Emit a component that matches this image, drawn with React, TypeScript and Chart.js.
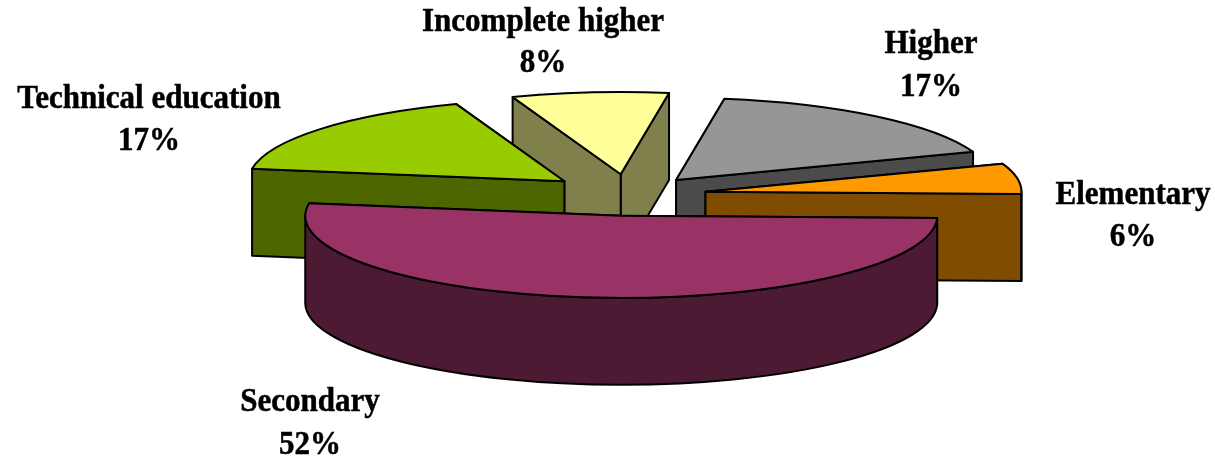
import React, { useEffect, useRef } from "react";
import { Chart, registerables } from "chart.js";

Chart.register(...registerables);

const categories = ["Incomplete higher", "Higher", "Elementary", "Secondary", "Technical education"];
const shares = [8, 17, 6, 52, 17];
const explode = [80, 75, 78, 80, 83];
const topColors = ["#FFFF99", "#969696", "#FF9900", "#993366", "#99CC00"];
const sideColors = ["#80804D", "#4B4B4B", "#804D00", "#4D1A33", "#4D6600"];
const drawOrder = [0, 1, 4, 2, 3];
const labelCenters = [
  [543, 22, 63],
  [931, 44, 87],
  [1133, 195, 237],
  [310, 402, 445],
  [149, 99, 141],
];

const SQUASH = 0.26;
const DEPTH = 87;
const RADIUS = 316;
const FONT = 'bold 33px "Liberation Serif"';
const TEXT_STRETCH = 0.94;

const pie3d = {
  id: "pie3d",
  beforeDatasetDraw(chart: any) {
    const ctx = chart.ctx;
    const arcs = chart.getDatasetMeta(0).data;
    ctx.save();
    ctx.lineWidth = 2;
    ctx.strokeStyle = "#000";
    ctx.lineJoin = "round";
    for (const i of drawOrder) {
      const arc = arcs[i];
      const { x, y, startAngle, endAngle, outerRadius } = arc;
      const mid = (startAngle + endAngle) / 2;
      const off = explode[i];
      const ax = x + Math.cos(mid) * off;
      const ay = y + Math.sin(mid) * off * SQUASH;
      const px = (a: number) => ax + Math.cos(a) * outerRadius;
      const py = (a: number) => ay + Math.sin(a) * outerRadius * SQUASH;

      ctx.fillStyle = sideColors[i];
      const faces = [startAngle, endAngle].sort((p, q) => py(p) - py(q));
      for (const a of faces) {
        ctx.beginPath();
        ctx.moveTo(ax, ay);
        ctx.lineTo(px(a), py(a));
        ctx.lineTo(px(a), py(a) + DEPTH);
        ctx.lineTo(ax, ay + DEPTH);
        ctx.closePath();
        ctx.fill();
        ctx.stroke();
      }

      const a0 = Math.max(startAngle, 0);
      const a1 = Math.min(endAngle, Math.PI);
      if (a1 > a0) {
        ctx.beginPath();
        ctx.ellipse(ax, ay, outerRadius, outerRadius * SQUASH, 0, a0, a1);
        ctx.lineTo(px(a1), py(a1) + DEPTH);
        ctx.ellipse(ax, ay + DEPTH, outerRadius, outerRadius * SQUASH, 0, a1, a0, true);
        ctx.closePath();
        ctx.fill();
        ctx.stroke();
      }

      ctx.fillStyle = topColors[i];
      ctx.beginPath();
      ctx.moveTo(ax, ay);
      ctx.ellipse(ax, ay, outerRadius, outerRadius * SQUASH, 0, startAngle, endAngle);
      ctx.closePath();
      ctx.fill();
      ctx.stroke();
    }
    ctx.restore();
    return false;
  },
  afterDraw(chart: any) {
    const ctx = chart.ctx;
    ctx.save();
    ctx.font = FONT;
    ctx.fillStyle = "#000";
    ctx.strokeStyle = "#000";
    ctx.lineWidth = 0.5;
    ctx.textAlign = "center";
    ctx.textBaseline = "middle";
    const put = (text: string, cx: number, cy: number) => {
      ctx.save();
      ctx.translate(cx, cy);
      ctx.scale(TEXT_STRETCH, 1);
      ctx.fillText(text, 0, 0);
      ctx.strokeText(text, 0, 0);
      ctx.restore();
    };
    categories.forEach((name, i) => {
      const [cx, y1, y2] = labelCenters[i];
      put(name, cx, y1);
      put(`${shares[i]}%`, cx, y2);
    });
    ctx.restore();
  },
};

export default function App() {
  const ref = useRef<HTMLCanvasElement>(null);
  useEffect(() => {
    const chart = new Chart(ref.current as HTMLCanvasElement, {
      type: "pie",
      data: {
        labels: categories,
        datasets: [{ data: shares, backgroundColor: topColors, borderColor: "#000", borderWidth: 0 }],
      },
      options: {
        responsive: false,
        animation: false,
        rotation: -20,
        radius: RADIUS,
        layout: { padding: { left: 42, bottom: 68 } },
        plugins: { legend: { display: false }, tooltip: { enabled: false } },
      },
      plugins: [pie3d],
    } as any);
    return () => chart.destroy();
  }, []);
  return (
    <canvas
      ref={ref}
      width={1215}
      height={458}
      style={{ position: "absolute", left: 0, top: 0, display: "block", background: "#fff" }}
    />
  );
}
